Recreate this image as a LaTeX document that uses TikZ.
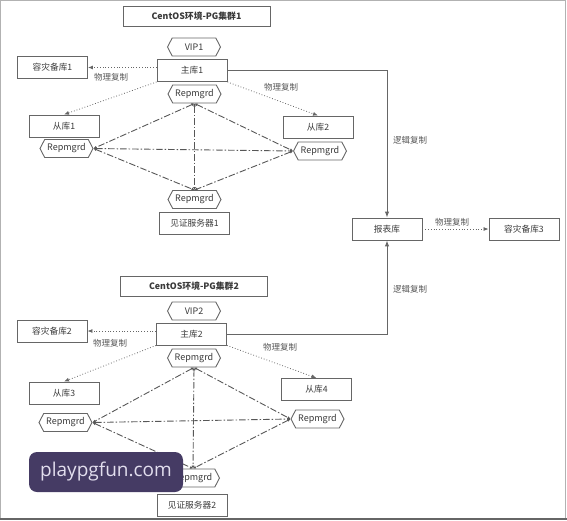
\documentclass[tikz,border=0pt]{standalone}
\usepackage{fontspec}
\setmainfont{Noto Sans CJK SC}
\newfontfamily\wmfont{Open Sans}
\usetikzlibrary{shapes.symbols,arrows.meta}
\definecolor{ln}{HTML}{666666}
\definecolor{tx}{HTML}{3A3A3A}
\definecolor{wm}{HTML}{453B64}
\definecolor{wmtx}{HTML}{E2DEEE}
\begin{document}
\begin{tikzpicture}[x=1pt,y=-1pt,
 box/.style={draw=ln, line width=0.9pt, minimum width=70pt, minimum height=22pt, inner sep=0pt, font=\fontsize{8.7}{9}\selectfont, text=tx},
 titlebox/.style={box, minimum width=147pt, minimum height=20pt, font=\fontsize{8.8}{9}\selectfont\bfseries},
 hexa/.style={signal, signal to=east and west, signal pointer angle=125, draw=ln, line width=0.9pt, minimum width=53pt, minimum height=18pt, inner sep=0pt, font=\fontsize{9}{9}\selectfont, text=tx},
 lbl/.style={font=\fontsize{8.5}{9}\selectfont, text=tx!85},
 phys/.style={draw=ln, dotted, line width=0.8pt, -{Latex[length=5pt,width=4pt]}},
 logi/.style={draw=ln, line width=1pt, -{Latex[length=6pt,width=4.5pt]}},
 rep/.style={draw=ln!85!black, line width=0.9pt, dash pattern=on 6.5pt off 2pt on 1.5pt off 2pt, {Latex[length=3pt,width=3pt]}-{Latex[length=3pt,width=3pt]}},
]
\useasboundingbox (0,0) rectangle (567,520);
\draw[gray!60, line width=1pt] (0.5,0.5) rectangle (565.5,518.5);
\draw[gray!80!black, line width=1.5pt] (0,519) -- (567,519);

% cluster 1
\node[titlebox] (t1) at (196.5,16) {CentOS环境-PG集群1};
\node[hexa] (v1) at (194,47) {VIP1};
\node[box] (m1) at (192,70.5) {主库1};
\node[hexa] (rt1) at (194.5,94) {Repmgrd};
\node[box] (d1) at (52.5,67.5) {容灾备库1};
\node[box] (s1) at (64,126) {从库1};
\node[hexa] (rl1) at (66.5,148.5) {Repmgrd};
\node[box] (s2) at (318,127) {从库2};
\node[hexa] (rr1) at (320,151) {Repmgrd};
\node[hexa] (rb1) at (194.5,199.5) {Repmgrd};
\node[box] (w1) at (194.5,223) {见证服务器1};

% report
\node[box] (rpt) at (387,229) {报表库};
\node[box] (d3) at (524,229) {容灾备库3};

% cluster 2
\node[titlebox] (t2) at (194,286) {CentOS环境-PG集群2};
\node[hexa] (v2) at (194,311) {VIP2};
\node[box] (m2) at (191.5,334) {主库2};
\node[hexa] (rt2) at (194,358) {Repmgrd};
\node[box] (d2) at (52,331) {容灾备库2};
\node[box] (s3) at (64,393) {从库3};
\node[hexa] (rl2) at (65.5,422.5) {Repmgrd};
\node[box] (s4) at (316.5,389.5) {从库4};
\node[hexa] (rr2) at (317.5,419) {Repmgrd};
\node[hexa] (rb2) at (193,478) {Repmgrd};
\node[box] (w2) at (192,505) {见证服务器2};

% physical replication
\draw[phys] (m1.west |- d1.east) -- (d1.east);
\draw[phys] (m1.south west) -- (s1.north);
\draw[phys] (m1.south east) -- (s2.north);
\draw[phys] (m2.west |- d2.east) -- (d2.east);
\draw[phys] (m2.south west) -- (s3.north);
\draw[phys] (m2.south east) -- (s4.north);
\draw[phys] (rpt) -- (d3);

% logical replication
\draw[logi] (m1.east) -- (m1.east -| rpt.north) -- (rpt.north);
\draw[logi] (m2.east) -- (m2.east -| rpt.south) -- (rpt.south);

% labels
\node[lbl] (p1) at (111,77) {物理复制};
\node[lbl] (p2) at (281,87) {物理复制};
\node[lbl] (l1) at (410,140) {逻辑复制};
\node[lbl] (p3) at (452,222) {物理复制};
\node[lbl] (l2) at (410,289) {逻辑复制};
\node[lbl] (p4) at (110,343) {物理复制};
\node[lbl] (p5) at (280,347) {物理复制};

% repmgrd mesh
\foreach \a/\b in {rt1.south/rl1.east, rt1.south/rr1.west, rt1.south/rb1.north, rl1.east/rr1.west, rl1.east/rb1.north, rr1.west/rb1.north,
                   rt2.south/rl2.east, rt2.south/rr2.west, rt2.south/rb2.north, rl2.east/rr2.west, rl2.east/rb2.north, rr2.west/rb2.north}
  \draw[rep] (\a) -- (\b);

% watermark
\node[fill=wm, rounded corners=8pt, minimum width=154pt, minimum height=40pt, inner sep=0pt, text=wmtx, font=\wmfont\fontsize{19}{20}\selectfont] (wmk) at (106,472) {playpgfun.com};
\end{tikzpicture}
\end{document}
